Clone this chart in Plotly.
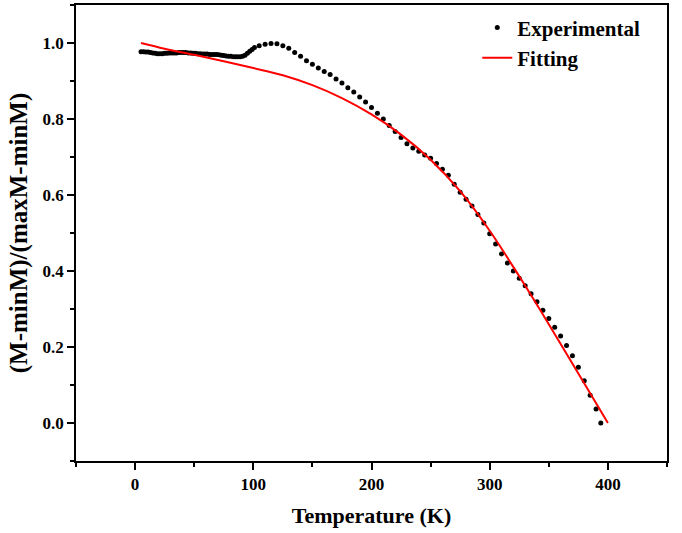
import plotly.graph_objects as go

# Experimental data (T in K, normalized magnetization)
exp_T = [5, 7, 9, 11, 13, 15, 17, 19, 21, 23, 25, 27, 29, 31, 33, 35, 37, 39, 41, 43,
         45, 47, 49, 51, 53, 55, 57, 59, 61, 63, 65, 67, 69, 71, 73, 75, 77, 79, 81, 83,
         85, 87, 89, 91, 93, 95, 97, 99, 101,
         105, 110, 115, 120, 125, 130, 135, 140, 145, 150, 155, 160, 165, 170, 175, 180,
         185, 190, 195, 200, 205, 210, 215, 220, 225, 230, 235, 240, 245, 250, 255, 260,
         265, 270, 275, 280, 285, 290, 295, 300, 305, 310, 315, 320, 325, 330, 335, 340,
         345, 350, 355, 360, 365, 370, 375, 380, 385, 390, 394]
exp_M = [0.977, 0.977, 0.976, 0.976, 0.975, 0.974, 0.973, 0.972, 0.972, 0.972, 0.973,
         0.973, 0.974, 0.974, 0.974, 0.974, 0.975, 0.975, 0.975, 0.975, 0.974, 0.974,
         0.973, 0.973, 0.972, 0.972, 0.971, 0.971, 0.971, 0.970, 0.970, 0.970, 0.970,
         0.969, 0.968, 0.967, 0.966, 0.965, 0.965, 0.964, 0.964, 0.964, 0.964, 0.965,
         0.968, 0.973, 0.978, 0.983, 0.988,
         0.993, 0.997, 0.999, 0.998, 0.993, 0.986, 0.975, 0.965, 0.953, 0.944, 0.934,
         0.925, 0.917, 0.905, 0.895, 0.882, 0.871, 0.858, 0.845, 0.830, 0.815, 0.800,
         0.783, 0.767, 0.751, 0.735, 0.724, 0.715, 0.705, 0.697, 0.683, 0.668, 0.652,
         0.628, 0.607, 0.589, 0.571, 0.549, 0.526, 0.498, 0.471, 0.445, 0.421, 0.400,
         0.381, 0.361, 0.340, 0.319, 0.297, 0.275, 0.252, 0.229, 0.204, 0.177, 0.147,
         0.111, 0.073, 0.037, 0.0]

# Fitting curve
fit_T = [5, 25, 50, 75, 100, 125, 150, 175, 200, 225, 250, 275, 300, 325, 350, 375, 400]
fit_M = [1.0, 0.985, 0.969, 0.952, 0.934, 0.915, 0.889, 0.855, 0.812, 0.759, 0.693,
         0.610, 0.506, 0.386, 0.260, 0.130, 0.0]

xticks = [0, 100, 200, 300, 400]
yticks = [0.0, 0.2, 0.4, 0.6, 0.8, 1.0]

FONT = "Liberation Serif"

fig = go.Figure()
fig.add_trace(go.Scatter(
    x=exp_T, y=exp_M, mode="markers", name="<b>Experimental</b>",
    marker=dict(color="black", size=5),
))
fig.add_trace(go.Scatter(
    x=fit_T, y=fit_M, mode="lines", name="<b>Fitting</b>",
    line=dict(color="#ff0000", width=2, shape="spline", smoothing=1.0),
))

axis_common = dict(
    showline=True, linecolor="black", linewidth=1.5, mirror=True,
    ticks="outside", ticklen=7, tickwidth=1.5, tickcolor="black",
    showgrid=False, zeroline=False, automargin=False,
    tickfont=dict(family=FONT, size=17, color="black", weight="bold"),
)

fig.update_layout(
    width=682, height=533,
    margin=dict(l=76, r=15, t=5, b=72),
    paper_bgcolor="white", plot_bgcolor="white",
    showlegend=True,
    legend=dict(
        x=0.679, y=0.995, xanchor="left", yanchor="top",
        bgcolor="rgba(0,0,0,0)",
        font=dict(family=FONT, size=21, color="black"),
    ),
    xaxis=dict(
        range=[-50, 450], tickvals=xticks, ticktext=[str(v) for v in xticks],
        minor=dict(dtick=50, tick0=0, ticks="outside", ticklen=4, tickwidth=1.5, tickcolor="black"),
        title=dict(text="<b>Temperature (K)</b>", standoff=14,
                   font=dict(family=FONT, size=22, color="black")),
        **axis_common,
    ),
    yaxis=dict(
        range=[-0.1, 1.1], tickvals=yticks, ticktext=[f"{v:.1f}" for v in yticks],
        minor=dict(dtick=0.1, tick0=0, ticks="outside", ticklen=4, tickwidth=1.5, tickcolor="black"),
        title=dict(text="<b>(M-minM)/(maxM-minM)</b>", standoff=8,
                   font=dict(family=FONT, size=25, color="black")),
        **axis_common,
    ),
)

fig.write_html("out.html", config={"displayModeBar": False},
               post_script="document.body.style.margin='0';")
